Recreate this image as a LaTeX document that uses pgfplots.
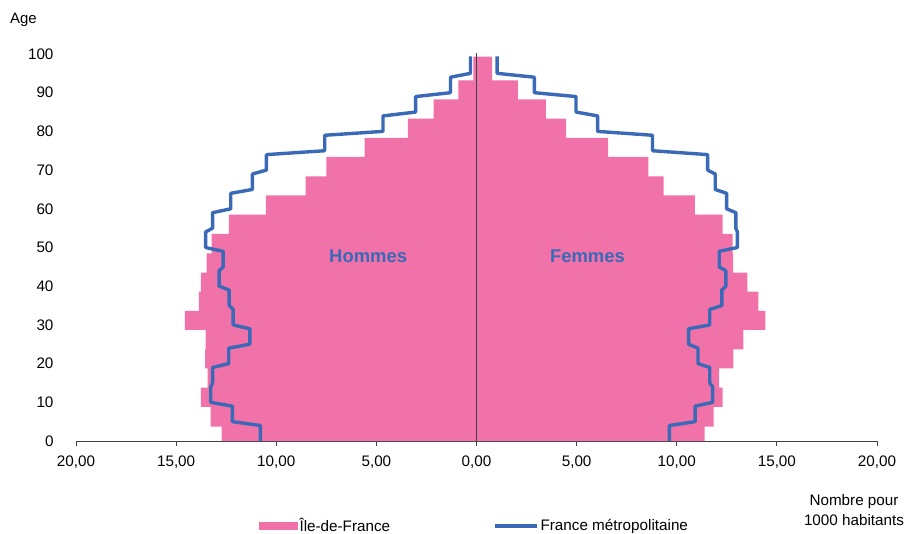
\documentclass[border=0pt]{standalone}
\usepackage{fontspec}
\setmainfont{Liberation Sans}
\usepackage{pgfplots}
\pgfplotsset{compat=1.18}
\definecolor{idfpink}{RGB}{241,114,169}
\definecolor{frblue}{RGB}{58,106,183}
\definecolor{axgray}{RGB}{64,64,64}
\pgfplotsset{
  pinkleg/.style={legend image code/.code={\fill[##1] (0bp,-4.2bp) rectangle (39bp,4.2bp);}},
  blueleg/.style={legend image code/.code={\draw[##1] (0bp,0bp) -- (42bp,0bp);}},
}
\begin{document}
\begin{tikzpicture}
\useasboundingbox (0bp,0bp) rectangle (908bp,534bp);
\begin{axis}[
  at={(76bp,93bp)}, anchor=south west,
  scale only axis, width=801bp, height=387bp,
  xmin=-20, xmax=20, ymin=0, ymax=100,
  clip=false,
  axis x line*=bottom, axis y line*=left,
  y axis line style={draw=none},
  x axis line style={axgray, line width=0.9bp},
  xtick={-20,-15,...,20},
  xticklabels={{20,00},{15,00},{10,00},{5,00},{0,00},{5,00},{10,00},{15,00},{20,00}},
  ytick={0,10,...,100},
  yticklabels={0,10,20,30,40,50,60,70,80,90,100},
  tick align=outside,
  major tick length=5bp,
  x tick style={axgray, line width=0.9bp},
  y tick style={draw=none},
  tick label style={font=\fontsize{15.3}{18}\selectfont},
  xticklabel style={yshift=-6bp},
  yticklabel style={xshift=-14bp},
  legend style={at={(0.2285,-0.2196)}, anchor=west, draw=none, fill=none,
    inner sep=0pt, outer sep=0pt, legend columns=2,
    font=\fontsize{15.3}{18}\selectfont,
    /tikz/every even column/.append style={column sep=102bp},
    nodes={inner sep=1.5bp}},
]
% Ile-de-France (pink steps, 5-year groups)
\addplot[fill=idfpink, draw=none, pinkleg]
coordinates {
(0,0) (-12.73,0) (-12.73,3.7) (-13.28,3.7) (-13.28,8.8) (-13.77,8.8) (-13.77,13.8)
(-13.43,13.8) (-13.43,18.75) (-13.55,18.75) (-13.55,23.7) (-13.53,23.7) (-13.53,28.7)
(-14.56,28.7) (-14.56,33.6) (-13.87,33.6) (-13.87,38.6) (-13.77,38.6) (-13.77,43.5)
(-13.48,43.5) (-13.48,48.5) (-13.23,48.5) (-13.23,53.5) (-12.37,53.5) (-12.37,58.5)
(-10.52,58.5) (-10.52,63.45) (-8.53,63.45) (-8.53,68.4) (-7.50,68.4) (-7.50,73.4)
(-5.59,73.4) (-5.59,78.3) (-3.43,78.3) (-3.43,83.3) (-2.14,83.3) (-2.14,88.3)
(-0.90,88.3) (-0.90,93.2) (-0.15,93.2) (-0.15,99.3)
(0.78,99.3) (0.78,93.2) (2.06,93.2) (2.06,88.3) (3.47,88.3) (3.47,83.3) (4.47,83.3)
(4.47,78.3) (6.57,78.3) (6.57,73.4) (8.58,73.4) (8.58,68.4) (9.34,68.4) (9.34,63.45)
(10.91,63.45) (10.91,58.5) (12.29,58.5) (12.29,53.5) (12.79,53.5) (12.79,48.5)
(12.82,48.5) (12.82,43.5) (13.53,43.5) (13.53,38.6) (14.08,38.6) (14.08,33.6)
(14.43,33.6) (14.43,28.7) (13.33,28.7) (13.33,23.7) (12.83,23.7) (12.83,18.75)
(12.12,18.75) (12.12,13.8) (12.29,13.8) (12.29,8.8) (11.84,8.8) (11.84,3.7)
(11.39,3.7) (11.39,0) (0,0)
};
\addlegendentry{Île-de-France}
% France metropolitaine, hommes
\addplot[frblue, line width=3.4bp, line join=round, blueleg]
coordinates {
(-10.79,0) (-10.79,4) (-12.19,5) (-12.19,9) (-13.27,10) (-13.27,14) (-13.18,15)
(-13.18,19) (-12.37,20) (-12.37,24) (-11.32,25) (-11.32,29) (-12.15,30) (-12.15,34)
(-12.35,35) (-12.35,39) (-12.85,40) (-12.85,44) (-12.65,45) (-12.65,49) (-13.53,50)
(-13.53,54) (-13.18,55) (-13.18,59) (-12.27,60) (-12.27,64) (-11.19,65) (-11.19,69)
(-10.49,70) (-10.49,74) (-7.58,75) (-7.58,79) (-4.67,80) (-4.67,84) (-3.04,85)
(-3.04,89) (-1.3,90) (-1.3,94) (-0.3,95) (-0.3,99.4)
};
\addlegendentry{France métropolitaine}
% France metropolitaine, femmes
\addplot[frblue, line width=3.4bp, line join=round, forget plot]
coordinates {
(9.63,0) (9.63,4) (10.92,5) (10.92,9) (11.79,10) (11.79,14) (11.65,15) (11.65,19)
(11.06,20) (11.06,24) (10.59,25) (10.59,29) (11.65,30) (11.65,34) (12.25,35)
(12.25,39) (12.45,40) (12.45,44) (12.12,45) (12.12,49) (13.03,50) (13.03,54)
(12.95,55) (12.95,59) (12.49,60) (12.49,64) (11.92,65) (11.92,69) (11.54,70)
(11.54,74) (8.79,75) (8.79,79) (6.05,80) (6.05,84) (4.97,85) (4.97,89) (2.89,90)
(2.89,94) (1.03,95) (1.03,99.4)
};
% central axis
\addplot[axgray, line width=1.1bp, forget plot] coordinates {(0,0) (0,100.2)};
\node[font=\bfseries\fontsize{18.5}{22}\selectfont, text=frblue] at (axis cs:-5.41,47.7) {Hommes};
\node[font=\bfseries\fontsize{18.5}{22}\selectfont, text=frblue] at (axis cs:5.54,47.7) {Femmes};
\end{axis}
\node[anchor=base west, inner sep=0pt, font=\fontsize{15}{18}\selectfont] at (10bp,510.7bp) {Age};
\node[anchor=base, inner sep=0pt, font=\fontsize{15.3}{18}\selectfont] at (854bp,29bp) {Nombre pour};
\node[anchor=base, inner sep=0pt, font=\fontsize{15.3}{18}\selectfont] at (854bp,9bp) {1000 habitants};
\end{tikzpicture}
\end{document}
